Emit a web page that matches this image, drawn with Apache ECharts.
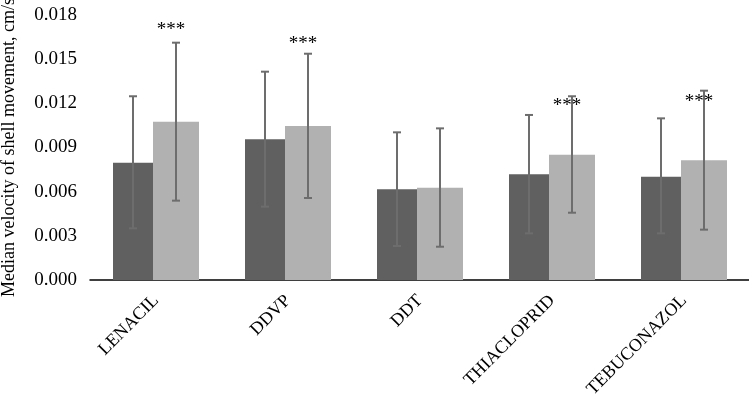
<!DOCTYPE html>
<html>
<head>
<meta charset="utf-8">
<script src="https://cdn.jsdelivr.net/npm/echarts@6/dist/echarts.min.js"></script>
<style>
  html, body { margin: 0; padding: 0; background: #fff; }
  #chart { width: 749px; height: 398px; }
</style>
</head>
<body>
<div id="chart"></div>
<script>
// substances
const categories = ['LENACIL', 'DDVP', 'DDT', 'THIACLOPRID', 'TEBUCONAZOL']
// median values, dark (first) and light (second) bars
const darkValues = [0.00797, 0.00956, 0.00616, 0.00718, 0.00702]
const lightValues = [0.01075, 0.01046, 0.00627, 0.00851, 0.00813]
// error bar ends
const darkLow = [0.00351, 0.00498, 0.00231, 0.00317, 0.00317]
const darkHigh = [0.01248, 0.01415, 0.01003, 0.01121, 0.01098]
const lightLow = [0.00539, 0.00557, 0.00226, 0.00457, 0.00342]
const lightHigh = [0.01612, 0.01537, 0.0103, 0.01248, 0.01286]
// significance marks (text and the level they sit at)
const marks = ['***', '***', '', '***', '***']
const markLevel = [0.01698, 0.01603, 0, 0.01182, 0.01211]

const FONT = '"Liberation Serif", "Times New Roman", serif'
const darkWidth = 40
const lightWidth = 46
const darkOffset = -(darkWidth + lightWidth) / 2 + darkWidth / 2
const lightOffset = -(darkWidth + lightWidth) / 2 + darkWidth + lightWidth / 2

// 误差线
function errorBar (offset, lows, highs) {
  return function (params, api) {
    let i = api.value(0)
    let top = api.coord([i, highs[i]])
    let bottom = api.coord([i, lows[i]])
    let x = top[0] + offset
    let style = { stroke: '#6d6d6d', lineWidth: 2 }
    return {
      type: 'group',
      children: [
        { type: 'line', shape: { x1: x, y1: top[1], x2: x, y2: bottom[1] }, style: style },
        { type: 'line', shape: { x1: x - 4, y1: top[1], x2: x + 4, y2: top[1] }, style: style },
        { type: 'line', shape: { x1: x - 4, y1: bottom[1], x2: x + 4, y2: bottom[1] }, style: style }
      ]
    }
  }
}

let chart = echarts.init(document.getElementById('chart'))
chart.setOption({
  animation: false,
  grid: { left: 90, top: 15, width: 660, height: 265, outerBoundsMode: 'none' },
  xAxis: {
    type: 'category',
    data: categories,
    axisLine: { lineStyle: { color: '#000', width: 1.5 } },
    axisTick: { show: false },
    axisLabel: {
      rotate: 45,
      margin: 18,
      fontFamily: FONT,
      fontSize: 18,
      color: '#000'
    }
  },
  yAxis: {
    type: 'value',
    min: 0,
    max: 0.018,
    interval: 0.003,
    name: 'Median velocity of shell movement, cm/s',
    nameLocation: 'middle',
    nameGap: 72,
    nameTextStyle: { fontFamily: FONT, fontSize: 18, color: '#000' },
    axisLine: { show: false },
    axisTick: { show: false },
    splitLine: { show: false },
    axisLabel: {
      margin: 13,
      fontFamily: FONT,
      fontSize: 19,
      color: '#000',
      formatter: v => v.toFixed(3)
    }
  },
  series: [
    {
      type: 'bar',
      data: darkValues,
      barWidth: darkWidth,
      barGap: '0%',
      itemStyle: { color: '#606060' }
    },
    {
      type: 'bar',
      data: lightValues,
      barWidth: lightWidth,
      barGap: '0%',
      itemStyle: { color: '#b1b1b1' }
    },
    {
      type: 'custom',
      data: categories.map((c, i) => [i, darkHigh[i]]),
      renderItem: errorBar(darkOffset, darkLow, darkHigh),
      z: 5
    },
    {
      type: 'custom',
      data: categories.map((c, i) => [i, lightHigh[i]]),
      renderItem: errorBar(lightOffset, lightLow, lightHigh),
      z: 5
    },
    {
      type: 'custom',
      data: categories.map((c, i) => [i, markLevel[i]]),
      renderItem: function (params, api) {
        let i = api.value(0)
        if (!marks[i]) return null
        let p = api.coord([i, markLevel[i]])
        return {
          type: 'text',
          style: {
            x: p[0] + lightOffset - 5,
            y: p[1],
            text: marks[i],
            align: 'center',
            verticalAlign: 'middle',
            fontFamily: FONT,
            fontSize: 19,
            fill: '#000'
          }
        }
      },
      z: 6
    }
  ]
})
</script>
</body>
</html>
